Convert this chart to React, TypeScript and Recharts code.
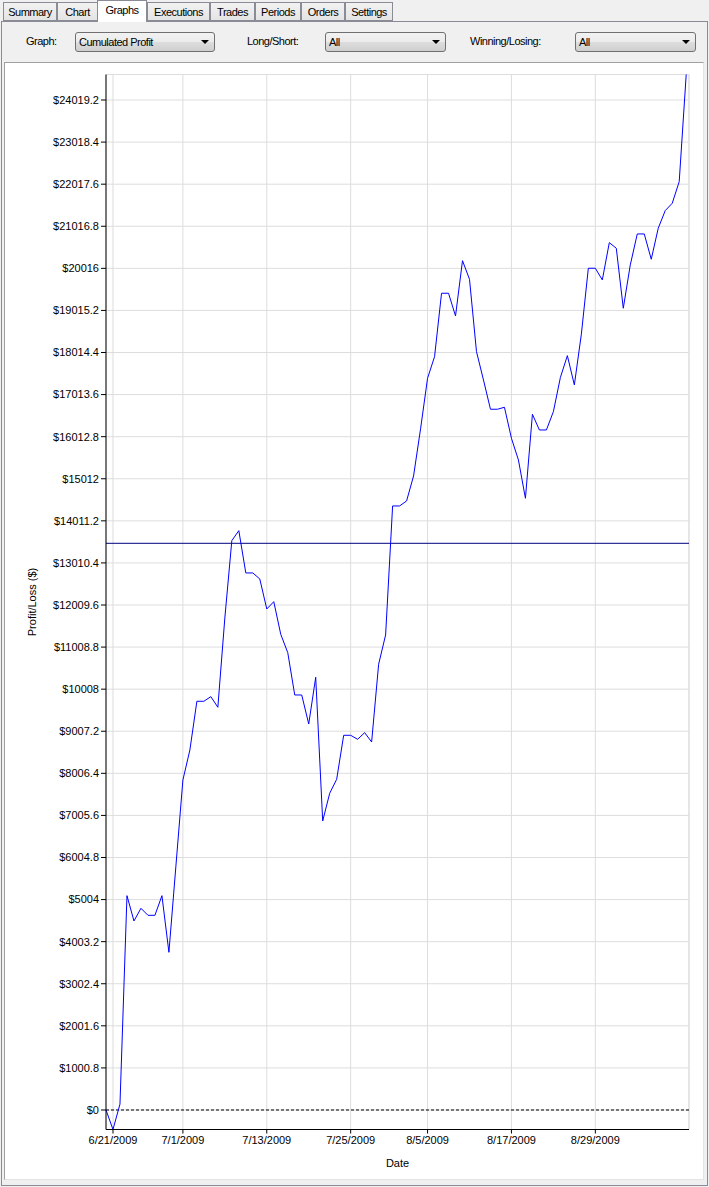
import {
  LineChart,
  Line,
  XAxis,
  YAxis,
  CartesianGrid,
  ReferenceLine,
} from "recharts";

const FONT = '"Liberation Sans", Arial, sans-serif';

// cumulated profit, one value per day starting 6/20/2009
const profit = [
  0, -464, 140, 5097, 4495, 4797, 4630, 4630, 5097, 3750,
  5800, 7848, 8562, 9720, 9720, 9830, 9577, 11700, 13540, 13778,
  12772, 12772, 12629, 11915, 12089, 11313, 10877, 9870, 9870, 9180,
  10291, 6873, 7532, 7865, 8911, 8911, 8816, 8974, 8752, 10600,
  11297, 14365, 14365, 14484, 15079, 16200, 17402, 17916, 19424, 19424,
  18884, 20199, 19756, 18035, 17362, 16665, 16665, 16712, 15975, 15459,
  14548, 16546, 16172, 16172, 16608, 17420, 17940, 17243, 18450, 20018,
  20018, 19740, 20627, 20494, 19067, 20097, 20834, 20834, 20232, 20970,
  21389, 21564, 22078, 24626,
];

const dateTicks = [1, 11, 23, 35, 46, 58, 70];
const dateLabels = [
  "6/21/2009",
  "7/1/2009",
  "7/13/2009",
  "7/25/2009",
  "8/5/2009",
  "8/17/2009",
  "8/29/2009",
];

const profitTicks = [
  0, 1000.8, 2001.6, 3002.4, 4003.2, 5004, 6004.8, 7005.6, 8006.4, 9007.2,
  10008, 11008.8, 12009.6, 13010.4, 14011.2, 15012, 16012.8, 17013.6,
  18014.4, 19015.2, 20016, 21016.8, 22017.6, 23018.4, 24019.2,
];

const averageLevel = 13477;

const tabNames = ["Summary", "Chart", "Graphs", "Executions", "Trades", "Periods", "Orders", "Settings"];
const selectedTab = "Graphs";

const data = profit.map((p, i) => ({ day: i, profit: p }));
const lastDay = 83.4;

// tab strip geometry (left, width)
const tabBoxes: [number, number][] = [
  [3, 54], [57, 41], [97, 50], [147, 63], [210, 45], [255, 46], [301, 44], [345, 48],
];

function Tab({ name, left, width }: { name: string; left: number; width: number }) {
  const sel = name === selectedTab;
  return (
    <div
      style={{
        position: "absolute",
        left,
        top: sel ? 0 : 2,
        width,
        height: sel ? 22 : 19,
        boxSizing: "border-box",
        border: "1px solid #898c95",
        borderBottom: sel ? "none" : "1px solid #898c95",
        background: sel ? "#ffffff" : "linear-gradient(#f2f2f2, #e4e4e4)",
        font: `11px ${FONT}`,
        letterSpacing: -0.5,
        color: "#000",
        textAlign: "center",
        lineHeight: sel ? "19px" : "18px",
        zIndex: sel ? 2 : 1,
      }}
    >
      {name}
    </div>
  );
}

function Label({ left, text }: { left: number; text: string }) {
  return (
    <div
      style={{
        position: "absolute",
        left,
        top: 35,
        font: `11px ${FONT}`,
        letterSpacing: -0.5,
        color: "#000",
      }}
    >
      {text}
    </div>
  );
}

function Combo({ left, width, text }: { left: number; width: number; text: string }) {
  return (
    <div
      style={{
        position: "absolute",
        left,
        top: 32,
        width,
        height: 20,
        boxSizing: "border-box",
        border: "1px solid #707070",
        borderRadius: 3,
        background: "linear-gradient(#f2f2f2 0%, #ebebeb 50%, #dddddd 51%, #cfcfcf 100%)",
        font: `11px ${FONT}`,
        letterSpacing: -0.5,
        color: "#000",
      }}
    >
      <span style={{ position: "absolute", left: 3, top: 3 }}>{text}</span>
      <div
        style={{
          position: "absolute",
          right: 5,
          top: 7,
          width: 0,
          height: 0,
          borderLeft: "4px solid transparent",
          borderRight: "4px solid transparent",
          borderTop: "4px solid #000",
        }}
      />
    </div>
  );
}

export default function App() {
  return (
    <div
      style={{
        position: "absolute",
        left: 0,
        top: 0,
        width: 709,
        height: 1187,
        background: "#f0f0f0",
        overflow: "hidden",
      }}
    >
      {tabNames.map((n, i) => (
        <Tab key={n} name={n} left={tabBoxes[i][0]} width={tabBoxes[i][1]} />
      ))}
      {/* tab page */}
      <div
        style={{
          position: "absolute",
          left: 1,
          top: 21,
          width: 707,
          height: 1165,
          boxSizing: "border-box",
          border: "1px solid #898c95",
          background: "#f0f0f0",
        }}
      />
      <Label left={26} text="Graph:" />
      <Combo left={75} width={140} text="Cumulated Profit" />
      <Label left={247} text="Long/Short:" />
      <Combo left={325} width={121} text="All" />
      <Label left={470} text="Winning/Losing:" />
      <Combo left={575} width={121} text="All" />

      {/* chart panel */}
      <div
        style={{
          position: "absolute",
          left: 4,
          top: 62,
          width: 700,
          height: 1118,
          boxSizing: "border-box",
          borderTop: "1px solid #a0a0a0",
          borderLeft: "1px solid #a0a0a0",
          borderRight: "1px solid #e3e3e3",
          borderBottom: "1px solid #e3e3e3",
          background: "#ffffff",
        }}
      />
      <div style={{ position: "absolute", left: 5, top: 63 }}>
        <LineChart
          width={697}
          height={1115}
          data={data}
          margin={{ top: 11.5, right: 13, bottom: 0, left: 0 }}
          style={{ fontFamily: FONT }}
        >
          <CartesianGrid stroke="#dddddd" />
          <ReferenceLine x={lastDay} stroke="#dddddd" />
          <ReferenceLine y={Math.max(...profit)} stroke="#dddddd" />
          <XAxis
            dataKey="day"
            type="number"
            domain={[0, lastDay]}
            ticks={dateTicks}
            tickFormatter={(v) => dateLabels[dateTicks.indexOf(v)]}
            height={48.5}
            tickSize={4}
            tickMargin={3}
            axisLine={{ stroke: "#000" }}
            tickLine={{ stroke: "#000" }}
            tick={{ fill: "#000", fontSize: 11 }}
            interval={0}
            label={{ value: "Date", position: "insideBottom", offset: 11, fill: "#000", fontSize: 11 }}
          />
          <YAxis
            type="number"
            domain={["dataMin", "dataMax"]}
            ticks={profitTicks}
            tickFormatter={(v) => `$${+Number(v).toFixed(1)}`}
            width={101}
            tickSize={5}
            tickMargin={2}
            axisLine={{ stroke: "#000" }}
            tickLine={{ stroke: "#000" }}
            tick={{ fill: "#000", fontSize: 11 }}
            interval={0}
            label={{
              value: "Profit/Loss ($)",
              angle: -90,
              position: "insideLeft",
              offset: 27,
              fill: "#000",
              fontSize: 11,
              style: { textAnchor: "middle" },
            }}
          />
          <ReferenceLine y={0} stroke="#000" strokeDasharray="3 2" />
          <ReferenceLine y={averageLevel} stroke="#000080" />
          <Line
            type="linear"
            dataKey="profit"
            stroke="#0000ff"
            strokeWidth={1}
            dot={false}
            isAnimationActive={false}
          />
        </LineChart>
      </div>
    </div>
  );
}
